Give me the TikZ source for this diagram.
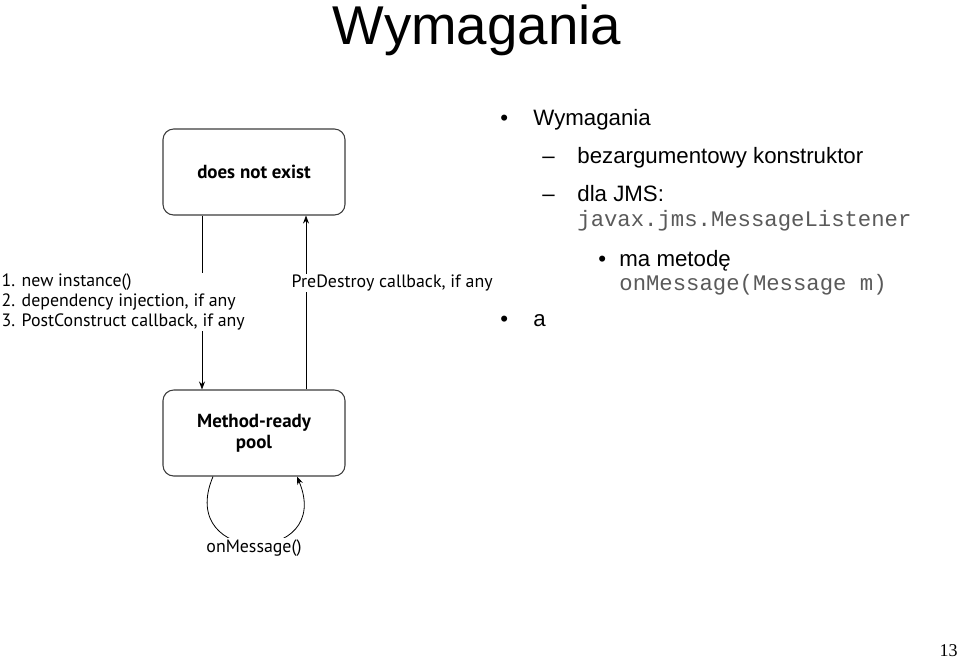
\documentclass[tikz,border=0pt]{standalone}
\usepackage{fontspec}
\setmainfont{Liberation Sans}
\setmonofont{Liberation Mono}
\newfontfamily\figfont{PT Sans}
\newfontfamily\numfont{Liberation Serif}
\usetikzlibrary{arrows.meta}
\definecolor{codegray}{HTML}{5A5A5A}
\definecolor{boxgray}{HTML}{3C3C3C}

\begin{document}
\begin{tikzpicture}[x=0.75pt,y=-0.75pt,->,>={Stealth[length=6pt,width=4.5pt]},line width=0.6pt,
    state/.style={draw=boxgray,line width=0.8pt,rounded corners=8pt,minimum width=136.5pt,minimum height=64.5pt,align=center,font=\figfont\bfseries\fontsize{14.2}{15}\selectfont},
    lbl/.style={fill=white,inner sep=1pt,align=left,font=\figfont\fontsize{13.4}{14.8}\selectfont},
    item/.style={anchor=base west,inner sep=0pt,font=\fontsize{16.7}{20}\selectfont},
    code/.style={anchor=base west,inner sep=0pt,text=codegray,font=\ttfamily\fontsize{16.7}{20}\selectfont}]
      \useasboundingbox (0,0) rectangle (959,658);
      % slide title
      \node [anchor=base,inner sep=0pt,font=\fontsize{41}{45}\selectfont] (title) at (477,44) {Wymagania};
      % life cycle diagram
      \node [state] (dne) at (254,172) {does not exist};
      \node [state] (pool) at (254,433) {Method-ready\\[1pt]pool};
      \draw (dne.south -| 202,0) -- (pool.north -| 202,0);
      \draw (pool.north -| 306,0) -- (dne.south -| 306,0);
      \draw ([xshift=-30.75pt]pool.south) .. controls +(-38,90) and +(38,90) .. ([xshift=32.25pt]pool.south);
      \node [lbl,anchor=west] (create) at (0,302) {1. new instance()\\2. dependency injection, if any\\3. PostConstruct callback, if any};
      \node [lbl,anchor=west] (destroy) at (290,283) {PreDestroy callback, if any};
      \node [lbl] (msg) at (254,548) {onMessage()};
      % bullet list
      \node [item] (b1) at (500,125) {•};
      \node [item] (t1) at (533,125) {Wymagania};
      \node [item] (d1) at (542,163) {–};
      \node [item] (t2) at (577,163) {bezargumentowy konstruktor};
      \node [item] (d2) at (542,201) {–};
      \node [item] (t3) at (577,201) {dla JMS:};
      \node [code] (c1) at (577,226) {javax.jms.MessageListener};
      \node [item] (b2) at (598,266) {•};
      \node [item] (t4) at (619,266) {ma metodę};
      \node [code] (c2) at (619,290) {onMessage(Message m)};
      \node [item] (b3) at (500,326) {•};
      \node [item] (t5) at (533,326) {a};
      % page number
      \node [anchor=base east,inner sep=0pt,font=\numfont\fontsize{13.5}{15}\selectfont] (page) at (958,656) {13};
\end{tikzpicture}
\end{document}
